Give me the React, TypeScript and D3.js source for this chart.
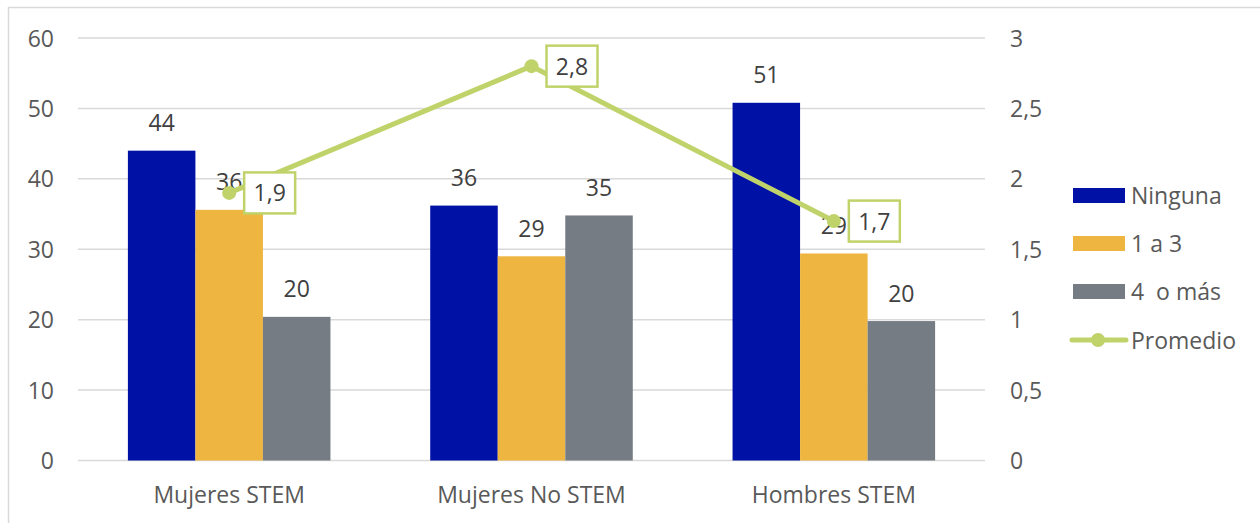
import React from "react";
import * as d3 from "d3";

const categories = ["Mujeres STEM", "Mujeres No STEM", "Hombres STEM"];
const seriesNames = ["Ninguna", "1 a 3", "4  o más"];
const ninguna = [44.0, 36.2, 50.8];
const unoATres = [35.6, 29.0, 29.4];
const cuatroOMas = [20.4, 34.8, 19.8];
const promedio = [1.9, 2.8, 1.7];
const leftTicks = [0, 10, 20, 30, 40, 50, 60];
const rightTicks = [0, 0.5, 1, 1.5, 2, 2.5, 3];

const barColors = ["#0011A6", "#EEB540", "#767C83"];
const lineColor = "#C0D36A";
const textColor = "#404040";
const tickColor = "#595959";
const gridColor = "#D9D9D9";
const font = "'Open Sans', sans-serif";
const fs = 23;

const W = 1260;
const H = 523;
const plot = { left: 78, right: 985, top: 38, bottom: 460.5 };

export default function App() {
  const series = [ninguna, unoATres, cuatroOMas];
  const x0 = d3
    .scaleBand<string>()
    .domain(categories)
    .range([plot.left, plot.right])
    .paddingInner(0.33)
    .paddingOuter(0.165);
  const x1 = d3
    .scaleBand<number>()
    .domain([0, 1, 2])
    .range([0, x0.bandwidth()]);
  const yL = d3.scaleLinear().domain([0, 60]).range([plot.bottom, plot.top]);
  const yR = d3.scaleLinear().domain([0, 3]).range([plot.bottom, plot.top]);
  const fmtComma = (v: number) => d3.format(".1f")(v).replace(".", ",");
  const fmtTick = (v: number) => String(v).replace(".", ",");
  const cx = (c: string) => (x0(c) as number) + x0.bandwidth() / 2;

  const linePath = d3
    .line<number>()
    .x((_, i) => cx(categories[i]))
    .y((d) => yR(d))(promedio) as string;

  const legendY = [195.5, 243.5, 291.5, 340];

  return (
    <svg
      width={W}
      height={H}
      style={{ position: "absolute", left: 0, top: 0, background: "#fff" }}
      fontFamily={font}
    >
      <rect x={8.5} y={7.5} width={W + 10} height={H + 10} fill="#fff" stroke={gridColor} strokeWidth={1.5} />

      {/* grid lines */}
      {leftTicks.map((t) => (
        <line key={t} x1={plot.left} x2={plot.right} y1={yL(t)} y2={yL(t)} stroke={gridColor} strokeWidth={1.5} />
      ))}

      {/* left axis labels */}
      {leftTicks.map((t) => (
        <text key={"l" + t} x={54} y={yL(t) + 8.5} textAnchor="end" fontSize={fs} fill={tickColor}>
          {t}
        </text>
      ))}
      {/* right axis labels */}
      {rightTicks.map((t) => (
        <text key={"r" + t} x={1010} y={yR(t) + 8.5} textAnchor="start" fontSize={fs} fill={tickColor}>
          {fmtTick(t)}
        </text>
      ))}

      {/* bars */}
      {categories.map((c, ci) =>
        series.map((s, si) => {
          const bx = (x0(c) as number) + (x1(si) as number);
          return (
            <rect
              key={c + si}
              x={bx}
              y={yL(s[ci])}
              width={x1.bandwidth()}
              height={yL(0) - yL(s[ci])}
              fill={barColors[si]}
            />
          );
        })
      )}

      {/* bar value labels */}
      {categories.map((c, ci) =>
        series.map((s, si) => {
          const bx = (x0(c) as number) + (x1(si) as number) + x1.bandwidth() / 2;
          return (
            <text
              key={"v" + c + si}
              x={bx}
              y={yL(s[ci]) - 19.5}
              textAnchor="middle"
              fontSize={fs}
              fill={textColor}
            >
              {d3.format(".0f")(s[ci])}
            </text>
          );
        })
      )}

      {/* category labels */}
      {categories.map((c) => (
        <text key={"c" + c} x={cx(c)} y={503} textAnchor="middle" fontSize={fs} fill={tickColor}>
          {c}
        </text>
      ))}

      {/* average line */}
      <path d={linePath} fill="none" stroke={lineColor} strokeWidth={5} strokeLinejoin="round" />
      {promedio.map((v, i) => (
        <circle key={"p" + i} cx={cx(categories[i])} cy={yR(v)} r={7} fill={lineColor} />
      ))}
      {promedio.map((v, i) => {
        const px = cx(categories[i]);
        const py = yR(v);
        return (
          <g key={"pl" + i}>
            <rect x={px + 15} y={py - 20.5} width={51} height={41} fill="#fff" stroke={lineColor} strokeWidth={2.5} />
            <text x={px + 40.5} y={py + 8.5} textAnchor="middle" fontSize={fs} fill={textColor}>
              {fmtComma(v)}
            </text>
          </g>
        );
      })}

      {/* legend */}
      {seriesNames.map((n, i) => (
        <g key={"lg" + i}>
          <rect x={1073} y={legendY[i] - 7.5} width={52} height={15} fill={barColors[i]} />
          <text x={1131} y={legendY[i] + 8.5} fontSize={fs} fill={tickColor} style={{ whiteSpace: "pre" }}>
            {n}
          </text>
        </g>
      ))}
      <line x1={1072} x2={1126} y1={legendY[3]} y2={legendY[3]} stroke={lineColor} strokeWidth={5} strokeLinecap="round" />
      <circle cx={1098} cy={legendY[3]} r={7} fill={lineColor} />
      <text x={1131} y={legendY[3] + 8.5} fontSize={fs} fill={tickColor}>
        Promedio
      </text>
    </svg>
  );
}
